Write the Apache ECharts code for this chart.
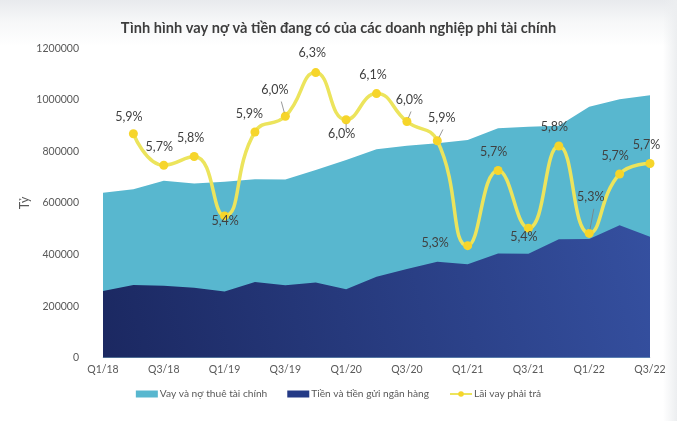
<!DOCTYPE html>
<html>
<head>
<meta charset="utf-8">
<script src="https://cdn.jsdelivr.net/npm/echarts@6/dist/echarts.min.js"></script>
<style>html,body{margin:0;padding:0;background:#fff}#c{width:677px;height:421px}</style>
</head>
<body>
<div id="c"></div>
<script>
const categories = ['Q1/18','Q2/18','Q3/18','Q4/18','Q1/19','Q2/19','Q3/19','Q4/19','Q1/20','Q2/20','Q3/20','Q4/20','Q1/21','Q2/21','Q3/21','Q4/21','Q1/22','Q2/22','Q3/22'];
const debt = [640000,653000,686000,676000,682000,692000,691000,728000,767000,808000,822000,832000,844000,890000,896000,900000,973000,1002000,1018000];
const cash = [259000,282000,279000,271000,257000,294000,281000,292000,265000,314000,344000,372000,362000,404000,403000,459000,460000,514000,469000];
const rate = [null,5.91,5.73,5.78,5.44,5.92,6.01,6.26,5.99,6.14,5.98,5.87,5.27,5.70,5.37,5.84,5.34,5.68,5.74];
const yTicks = [0,200000,400000,600000,800000,1000000,1200000];

// label placement (style only): [dx, dy, leader line]
const labelPlace = {
  1:[0,-12], 2:[0,-14], 3:[1,-14], 4:[5,10], 5:[-1,-14], 6:[-6,-22,true],
  7:[1,-15], 8:[0,19,true], 9:[1,-14], 10:[7,-17,true], 11:[9,-18,true],
  12:[-28,2], 13:[0,-14], 14:[0,13], 15:[0,-15], 16:[6,-32,true], 17:[0,-14], 18:[1,-14]
};

const FONT = 'Lato, "Open Sans", sans-serif';
const chart = echarts.init(document.getElementById('c'), null, {renderer:'canvas'});

const rateData = rate.map((v,i)=>{
  if (v === null) return null;
  const p = labelPlace[i] || [0,-14];
  return {value:v, label:{show:true, position:[0,0], offset:[p[0], p[1]]}};
});

const bgGraphic = {
  type:'rect', right:0, top:0, shape:{width:14, height:421}, silent:true, z:-1,
  style:{fill:{type:'linear', x:0, y:0, x2:1, y2:0,
    colorStops:[{offset:0,color:'rgba(236,238,240,0)'},{offset:1,color:'#eceef0'}]}}
};

chart.setOption({
  backgroundColor: {
    type:'linear', x:0, y:0, x2:0, y2:1,
    colorStops:[{offset:0,color:'#e8eaed'},{offset:0.05,color:'#f6f7f8'},{offset:0.11,color:'#ffffff'},{offset:1,color:'#ffffff'}]
  },
  animation:false,
  textStyle:{fontFamily:FONT},
  graphic:[bgGraphic],
  title:{
    text:'Tình hình vay nợ và tiền đang có của các doanh nghiệp phi tài chính',
    left:'center', top:16,
    textStyle:{fontFamily:FONT, fontSize:14.6, fontWeight:'bold', color:'#3d3d3d'}
  },
  grid:{left:103, right:27, top:48.3, bottom:63.3},
  legend:{
    bottom:17, left:'center',
    itemWidth:22, itemHeight:7, itemGap:20,
    textStyle:{fontFamily:FONT, fontSize:10.2, color:'#595959', padding:[0,0,0,-3]},
    data:[
      {name:'Vay và nợ thuê tài chính', icon:'rect'},
      {name:'Tiền và tiền gửi ngân hàng', icon:'rect'},
      {name:'Lãi vay phải trả'}
    ]
  },
  xAxis:{
    type:'category', data:categories, boundaryGap:false,
    axisLine:{lineStyle:{color:'#d9d9d9'}},
    axisTick:{show:false},
    axisLabel:{interval:1, color:'#595959', fontSize:10.5, margin:6, fontFamily:FONT}
  },
  yAxis:[{
    type:'value', min:0, max:1200000, interval:200000,
    name:'Tỷ', nameLocation:'middle', nameGap:72, nameRotate:90, nameMoveOverlap:false,
    nameTextStyle:{color:'#595959', fontSize:12.5, fontFamily:FONT},
    axisLine:{show:false}, axisTick:{show:false}, splitLine:{show:false},
    axisLabel:{color:'#595959', fontSize:10.5, margin:24, fontFamily:FONT,
      formatter:v=> yTicks.includes(v) ? String(v) : ''}
  },{
    type:'value', min:4.629, max:6.399, show:false, splitLine:{show:false}
  }],
  series:[
    {
      name:'Vay và nợ thuê tài chính', type:'line', data:debt, symbol:'none',
      lineStyle:{width:0}, itemStyle:{color:'#58b7cf'},
      areaStyle:{color:'#58b7cf', opacity:1}, z:1
    },
    {
      name:'Tiền và tiền gửi ngân hàng', type:'line', data:cash, symbol:'none',
      lineStyle:{width:0}, itemStyle:{color:'#243a86'},
      areaStyle:{opacity:1, color:{type:'linear', x:0, y:1, x2:1, y2:0,
        colorStops:[{offset:0,color:'#1b2861'},{offset:1,color:'#3550a0'}]}}, z:2
    },
    {
      name:'Lãi vay phải trả', type:'line', yAxisIndex:1, data:rateData,
      smooth:0.5, connectNulls:false,
      symbol:'circle', symbolSize:9,
      lineStyle:{width:3.5, color:'#ece45c'},
      itemStyle:{color:'#f6d52a'},
      label:{show:true, color:'#404040', fontSize:12.5, fontFamily:FONT, align:'center', verticalAlign:'middle',
        formatter:p=> p.value.toFixed(1).replace('.', ',') + '%'},
      z:5
    }
  ]
});

// thin leader lines from moved labels toward their points, placed with the chart's own scale
const leaders = [];
Object.keys(labelPlace).forEach(k=>{
  const i = +k, p = labelPlace[i];
  if (!p[2] || rate[i] === null) return;
  const pt = chart.convertToPixel({xAxisIndex:0, yAxisIndex:1}, [i, rate[i]]);
  const lx = pt[0] + p[0], ly = pt[1] + p[1];
  const dx = pt[0]-lx, dy = pt[1]-ly, len = Math.hypot(dx,dy);
  const sx = lx + dx/len*7.5, sy = ly + dy/len*7.5;
  const ex = pt[0] - dx/len*4, ey = pt[1] - dy/len*4;
  leaders.push({type:'line', shape:{x1:sx,y1:sy,x2:ex,y2:ey}, style:{stroke:'#7f7f7f', lineWidth:0.8}, z:10, silent:true});
});
chart.setOption({graphic:[bgGraphic].concat(leaders)}, {replaceMerge:['graphic']});
</script>
</body>
</html>
